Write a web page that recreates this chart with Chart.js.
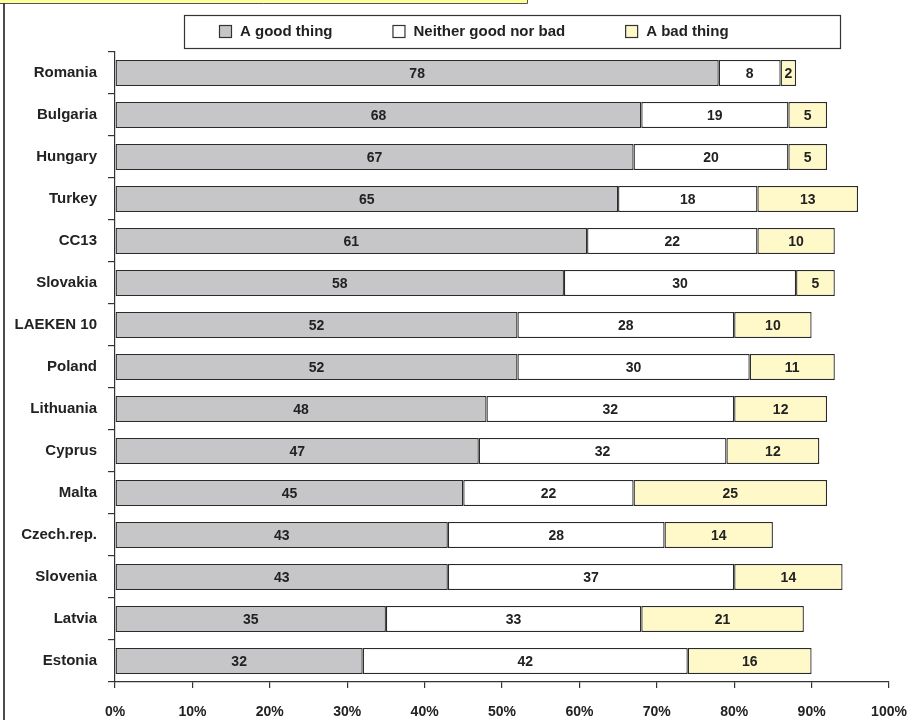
<!DOCTYPE html>
<html>
<head>
<meta charset="utf-8">
<script src="https://cdn.jsdelivr.net/npm/chart.js@4.4.1/dist/chart.umd.min.js"></script>
<style>
  html, body { margin: 0; padding: 0; background: #ffffff; }
  #wrap { position: relative; width: 916px; height: 720px; }
  canvas { display: block; }
</style>
</head>
<body>
<div id="wrap"><canvas id="chart" width="916" height="720"></canvas></div>
<script>
// Survey answers per country, in percent
const categories = ['Romania', 'Bulgaria', 'Hungary', 'Turkey', 'CC13', 'Slovakia', 'LAEKEN 10',
  'Poland', 'Lithuania', 'Cyprus', 'Malta', 'Czech.rep.', 'Slovenia', 'Latvia', 'Estonia'];
const goodThing    = [78, 68, 67, 65, 61, 58, 52, 52, 48, 47, 45, 43, 43, 35, 32];
const neitherThing = [ 8, 19, 20, 18, 22, 30, 28, 30, 32, 32, 22, 28, 37, 33, 42];
const badThing     = [ 2,  5,  5, 13, 10,  5, 10, 11, 12, 12, 25, 14, 14, 21, 16];
const seriesNames  = ['A good thing', 'Neither good nor bad', 'A bad thing'];
const xTicks       = [0, 10, 20, 30, 40, 50, 60, 70, 80, 90, 100];

const FONT = "'Liberation Sans', Arial, Helvetica, sans-serif";
const INK = '#222222';
const LINE = '#2a2a2a';

// Value labels centred in each stacked segment
const segmentLabels = {
  id: 'segmentLabels',
  afterDatasetsDraw(chart) {
    const ctx = chart.ctx;
    ctx.save();
    ctx.font = 'bold 14px ' + FONT;
    ctx.fillStyle = INK;
    ctx.textAlign = 'center';
    ctx.textBaseline = 'middle';
    chart.data.datasets.forEach((ds, i) => {
      const meta = chart.getDatasetMeta(i);
      meta.data.forEach((bar, j) => {
        const p = bar.getProps(['x', 'y', 'base'], true);
        ctx.fillText(String(ds.data[j]), (p.x + p.base) / 2, p.y + 1);
      });
    });
    ctx.restore();
  }
};

// Page frame: header strip and left rule
const frame = {
  id: 'frame',
  beforeDraw(chart) {
    const ctx = chart.ctx;
    ctx.save();
    ctx.fillStyle = '#ffff99';
    ctx.fillRect(0, 0, 527, 3.5);
    ctx.strokeStyle = '#555555';
    ctx.lineWidth = 1;
    ctx.beginPath();
    ctx.moveTo(0, 3.5); ctx.lineTo(527.5, 3.5); ctx.lineTo(527.5, 0);
    ctx.stroke();
    ctx.strokeStyle = '#111111';
    ctx.lineWidth = 1.5;
    ctx.beginPath();
    ctx.moveTo(4, 3.5); ctx.lineTo(4, 720);
    ctx.stroke();
    ctx.restore();
  }
};

// Boxed legend row above the plot
const boxedLegend = {
  id: 'boxedLegend',
  afterDraw(chart) {
    const ctx = chart.ctx;
    ctx.save();
    ctx.strokeStyle = '#333333';
    ctx.lineWidth = 1.2;
    ctx.strokeRect(184.5, 15.5, 656, 33);
    ctx.font = 'bold 15px ' + FONT;
    ctx.textBaseline = 'middle';
    ctx.textAlign = 'left';
    const cy = 32;
    let x = 219;
    chart.data.datasets.forEach(ds => {
      ctx.fillStyle = ds.backgroundColor;
      ctx.fillRect(x + 0.5, cy - 6.5, 12, 12);
      ctx.strokeStyle = '#333333';
      ctx.lineWidth = 1.2;
      ctx.strokeRect(x + 0.5, cy - 6.5, 12, 12);
      ctx.fillStyle = INK;
      ctx.fillText(ds.label, x + 21, cy);
      x += 21 + ctx.measureText(ds.label).width + 60;
    });
    ctx.restore();
  }
};

const colors = ['#c6c6c8', '#ffffff', '#fff9c9'];

new Chart(document.getElementById('chart'), {
  type: 'bar',
  data: {
    labels: categories,
    datasets: [goodThing, neitherThing, badThing].map((vals, i) => ({
      label: seriesNames[i],
      data: vals,
      backgroundColor: colors[i],
      borderColor: LINE,
      borderWidth: 1.3,
      borderSkipped: false,
      barPercentage: 0.62,
      categoryPercentage: 1.0
    }))
  },
  options: {
    indexAxis: 'y',
    responsive: false,
    animation: false,
    events: [],
    layout: { padding: { left: 6, right: 27, top: 52, bottom: 0 } },
    plugins: {
      tooltip: { enabled: false },
      title: { display: false },
      legend: { display: false }
    },
    scales: {
      x: {
        stacked: true,
        min: 0,
        max: 100,
        afterBuildTicks(scale) {
          scale.ticks = xTicks.map(v => ({ value: v }));
        },
        afterFit(scale) {
          scale.height = 38;
          scale.paddingLeft = 0;
          scale.paddingRight = 0;
        },
        border: { display: true, color: '#333333', width: 1.2 },
        grid: {
          display: true,
          drawOnChartArea: false,
          drawTicks: true,
          tickLength: 6,
          color: '#333333',
          lineWidth: 1.2
        },
        ticks: {
          padding: 16,
          color: INK,
          font: { family: FONT, size: 14, weight: 'bold' },
          maxRotation: 0,
          callback: v => v + '%'
        }
      },
      y: {
        stacked: true,
        offset: true,
        afterFit(scale) { scale.width = 109; },
        border: { display: true, color: '#333333', width: 1.2 },
        grid: {
          display: true,
          offset: true,
          drawOnChartArea: false,
          drawTicks: true,
          tickLength: 7,
          color: '#333333',
          lineWidth: 1.2
        },
        ticks: {
          padding: 11,
          color: INK,
          font: { family: FONT, size: 15, weight: 'bold' }
        }
      }
    }
  },
  plugins: [frame, segmentLabels, boxedLegend]
});
</script>
</body>
</html>
